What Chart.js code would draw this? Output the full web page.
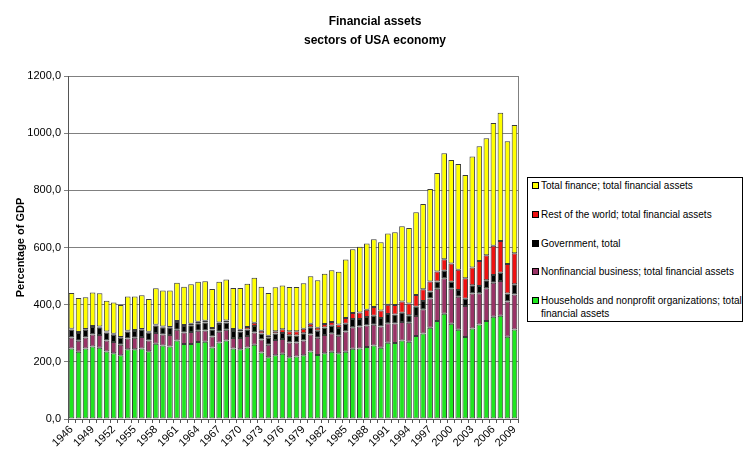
<!DOCTYPE html>
<html>
<head>
<meta charset="utf-8">
<title>Financial assets - sectors of USA economy</title>
<script src="https://cdn.jsdelivr.net/npm/chart.js@4/dist/chart.umd.min.js"></script>
<style>
  html, body { margin: 0; padding: 0; background: #fff; }
  #wrap { position: relative; width: 750px; height: 466px; }
  #legend {
    position: absolute; left: 527px; top: 177px; width: 214px; height: 143px;
    border: 1px solid #000; background: #fff;
    font: 10px 'Liberation Sans', Arial, sans-serif; color: #000;
  }
  #legend .item { position: absolute; left: 4px; right: 0; line-height: 13px; padding-left: 9px; white-space: nowrap; }
  #legend .box {
    position: absolute; left: 0; top: 3px; width: 5px; height: 5px; border: 1px solid #000;
  }
</style>
</head>
<body>
<div id="wrap">
  <canvas id="chart" width="750" height="466"></canvas>
  <div id="legend"></div>
</div>
<script>
// years 1946 .. 2009, values in % of GDP
const years = [
  1946, 1947, 1948, 1949, 1950, 1951, 1952, 1953, 1954, 1955,
  1956, 1957, 1958, 1959, 1960, 1961, 1962, 1963, 1964, 1965,
  1966, 1967, 1968, 1969, 1970, 1971, 1972, 1973, 1974, 1975,
  1976, 1977, 1978, 1979, 1980, 1981, 1982, 1983, 1984, 1985,
  1986, 1987, 1988, 1989, 1990, 1991, 1992, 1993, 1994, 1995,
  1996, 1997, 1998, 1999, 2000, 2001, 2002, 2003, 2004, 2005,
  2006, 2007, 2008, 2009
];

const households = [
  247, 235, 247, 254, 249, 236, 230, 223, 244, 244,
  247, 237, 263, 257, 254, 275, 262, 262, 269, 270,
  250, 268, 275, 247, 244, 250, 260, 233, 216, 223,
  228, 216, 219, 223, 236, 224, 230, 235, 230, 235,
  246, 247, 252, 257, 249, 267, 266, 275, 270, 290,
  299, 319, 343, 368, 333, 312, 287, 317, 331, 343,
  358, 361, 288, 313
];

const nonfinancial = [
  38, 39, 38, 42, 45, 39, 39, 37, 38, 40,
  40, 38, 38, 39, 40, 37, 41, 42, 40, 40,
  39, 37, 37, 36, 39, 40, 43, 45, 44, 53,
  52, 52, 49, 52, 60, 60, 64, 65, 61, 71,
  75, 77, 75, 73, 75, 68, 68, 64, 67, 70,
  85, 103, 113, 124, 123, 116, 108, 122, 109, 114,
  119, 122, 123, 123
];

const government = [
  28, 27, 27, 26, 27, 28, 26, 24, 24, 24,
  25, 27, 26, 25, 25, 27, 22, 24, 26, 28,
  24, 27, 26, 25, 23, 23, 22, 21, 24, 23,
  21, 25, 24, 25, 25, 25, 26, 26, 27, 27,
  29, 26, 30, 31, 29, 32, 32, 33, 26, 33,
  29, 24, 25, 27, 24, 23, 26, 29, 25, 28,
  27, 29, 28, 35
];

const restOfWorld = [
  3, 3, 3, 3, 3, 3, 3, 3, 3, 3,
  3, 3, 3, 3, 3, 4, 4, 5, 5, 6,
  5, 6, 7, 7, 6, 9, 12, 10, 7, 8,
  13, 14, 15, 16, 12, 10, 12, 13, 13, 20,
  21, 23, 25, 31, 27, 33, 33, 39, 41, 41,
  41, 35, 35, 40, 64, 71, 71, 62, 88, 88,
  102, 111, 103, 109
];

const totalFinance = [
  125, 119, 111, 118, 116, 108, 110, 112, 120, 118,
  118, 115, 127, 126, 128, 134, 134, 138, 140, 138,
  137, 142, 143, 143, 146, 151, 157, 154, 150, 154,
  153, 155, 155, 159, 166, 166, 176, 181, 184, 205,
  223, 230, 232, 237, 238, 249, 254, 263, 264, 289,
  298, 324, 345, 371, 362, 370, 362, 388, 401, 409,
  430, 448, 430, 449
];

const titleLines = ['Financial assets', 'sectors of USA economy'];
const seriesNames = [
  'Households and nonprofit organizations; total financial assets',
  'Nonfinancial business; total financial assets',
  'Government, total',
  'Rest of the world; total financial assets',
  'Total finance; total financial assets'
];
const seriesColors = ['#1ee61e', '#993366', '#000000', '#ee1111', '#ffff00'];
const seriesData = [households, nonfinancial, government, restOfWorld, totalFinance];

Chart.defaults.font.family = "'Liberation Sans', Arial, sans-serif";
Chart.defaults.color = '#000';

const fmt = v => v.toFixed(1).replace('.', ',');

// two-line title centred on the whole picture, plus the right edge of the plot box
const frameAndTitle = {
  id: 'frameAndTitle',
  afterDraw(chart) {
    const { ctx, chartArea: a, width } = chart;
    ctx.save();
    ctx.strokeStyle = '#808080';
    ctx.lineWidth = 1;
    ctx.beginPath();
    ctx.moveTo(Math.round(a.right) + 0.5, a.top);
    ctx.lineTo(Math.round(a.right) + 0.5, a.bottom);
    ctx.stroke();

    ctx.fillStyle = '#000';
    ctx.font = "bold 12px 'Liberation Sans', Arial, sans-serif";
    ctx.textAlign = 'center';
    ctx.textBaseline = 'middle';
    titleLines.forEach((t, i) => ctx.fillText(t, width / 2, 22 + i * 19));
    ctx.restore();
  }
};

new Chart(document.getElementById('chart').getContext('2d'), {
  type: 'bar',
  data: {
    labels: years,
    datasets: seriesData.map((d, i) => ({
      label: seriesNames[i],
      data: d,
      backgroundColor: seriesColors[i],
      borderColor: '#3a3a3a',
      borderWidth: 1,
      borderSkipped: false,
      barPercentage: 0.8,
      categoryPercentage: 1
    }))
  },
  options: {
    responsive: false,
    animation: false,
    layout: { padding: { left: 6, right: 232, top: 76, bottom: 0 } },
    plugins: {
      legend: { display: false },
      tooltip: { enabled: false },
      title: { display: false }
    },
    scales: {
      x: {
        stacked: true,
        grid: { drawOnChartArea: false, drawTicks: true, tickLength: 4, color: '#555', offset: true },
        border: { color: '#555' },
        ticks: {
          autoSkip: false,
          maxRotation: 45,
          minRotation: 45,
          padding: 0,
          font: { size: 11 },
          callback: (v, i) => (i % 3 === 0 ? String(years[i]) : '')
        },
        afterFit: s => { s.height = 47; }
      },
      y: {
        stacked: true,
        min: 0,
        max: 1200,
        ticks: { stepSize: 200, padding: 3, font: { size: 11 }, callback: v => fmt(v) },
        grid: { color: '#808080', tickLength: 4 },
        border: { color: '#555' },
        title: {
          display: true,
          text: 'Percentage of GDP',
          font: { size: 11, weight: 'bold' },
          padding: { top: 8, bottom: 0 }
        },
        afterFit: s => { s.width = 62; }
      }
    }
  },
  plugins: [frameAndTitle]
});

// legend box, top entry = top of the stack; last name breaks onto a second line
const legendTops = [1, 30, 59, 87, 116];
const legendText = [
  [seriesNames[4]],
  [seriesNames[3]],
  [seriesNames[2]],
  [seriesNames[1]],
  ['Households and nonprofit organizations; total', 'financial assets']
];
const legendColors = [seriesColors[4], seriesColors[3], seriesColors[2], seriesColors[1], seriesColors[0]];
const legend = document.getElementById('legend');
legendText.forEach((lines, n) => {
  const item = document.createElement('div');
  item.className = 'item';
  item.style.top = legendTops[n] + 'px';
  const box = document.createElement('span');
  box.className = 'box';
  box.style.background = legendColors[n];
  item.appendChild(box);
  lines.forEach((t, j) => {
    if (j > 0) item.appendChild(document.createElement('br'));
    item.appendChild(document.createTextNode(t));
  });
  legend.appendChild(item);
});
</script>
</body>
</html>
